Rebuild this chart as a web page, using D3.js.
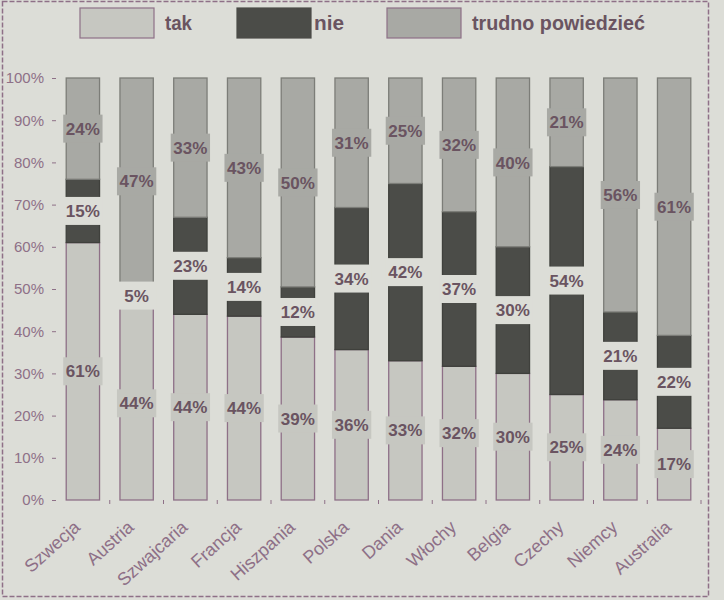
<!DOCTYPE html>
<html>
<head>
<meta charset="utf-8">
<script src="https://cdn.jsdelivr.net/npm/d3@7"></script>
<style>
  body { margin: 0; background: #dcddd7; }
  svg { display: block; }
</style>
</head>
<body>
<div class="chart"></div>
<script>
const countries = ['Szwecja', 'Austria', 'Szwajcaria', 'Francja', 'Hiszpania', 'Polska',
                   'Dania', 'Włochy', 'Belgia', 'Czechy', 'Niemcy', 'Australia'];
const tak    = [61, 44, 44, 44, 39, 36, 33, 32, 30, 25, 24, 17];
const nie    = [15,  5, 23, 14, 12, 34, 42, 37, 30, 54, 21, 22];
const trudno = [24, 47, 33, 43, 50, 31, 25, 32, 40, 21, 56, 61];
const seriesNames = ['tak', 'nie', 'trudno powiedzieć'];
const yTicks = [0, 0.1, 0.2, 0.3, 0.4, 0.5, 0.6, 0.7, 0.8, 0.9, 1];

const W = 724, H = 600;
const bg = '#dcddd7';
const purple = '#8e7087';
const textDark = '#6a5461';
const fills = ['#c6c7c1', '#4b4c48', '#a8a9a4'];
const strokes = [purple, '#3f403c', '#7c7d78'];
const font = '"Liberation Sans", Arial, sans-serif';

const rows = countries.map((c, i) => ({country: c, tak: tak[i], nie: nie[i], trudno: trudno[i]}));
const keys = ['tak', 'nie', 'trudno'];

const stack = d3.stack().keys(keys).offset(d3.stackOffsetExpand);
const series = stack(rows);

const svg = d3.select('.chart').append('svg')
    .attr('width', W).attr('height', H);

svg.append('rect')
    .attr('x', 0).attr('y', 0).attr('width', W).attr('height', H)
    .attr('fill', bg);

// dashed frame
svg.append('rect')
    .attr('x', 2.5).attr('y', 1.5).attr('width', 706).attr('height', H - 5)
    .attr('fill', 'none')
    .attr('stroke', purple).attr('stroke-width', 1.5)
    .attr('stroke-dasharray', '5,2');

// legend
const legendX = [80, 237, 387];
const legendTextW = [27, 30, 173];
const legend = svg.append('g');
seriesNames.forEach((name, i) => {
    legend.append('rect')
        .attr('x', legendX[i]).attr('y', 8)
        .attr('width', 74).attr('height', 30)
        .attr('fill', fills[i])
        .attr('stroke', i === 1 ? fills[1] : purple)
        .attr('stroke-width', 1.2);
    legend.append('text')
        .attr('x', legendX[i] + (i === 1 ? 77 : 85)).attr('y', 30)
        .attr('font-family', font)
        .attr('font-weight', 'bold')
        .attr('font-size', 20)
        .attr('textLength', legendTextW[i])
        .attr('lengthAdjust', 'spacingAndGlyphs')
        .attr('fill', textDark)
        .text(name);
});

const plot = {left: 56, right: 701, top: 78, bottom: 500};

const x = d3.scaleBand()
    .domain(countries)
    .range([plot.left, plot.right])
    .paddingInner(0.38)
    .paddingOuter(0.19);

const y = d3.scaleLinear()
    .domain([0, 1])
    .range([plot.bottom, plot.top]);

// y axis
const yAxis = d3.axisLeft(y)
    .tickValues(yTicks)
    .tickFormat(d3.format('.0%'))
    .tickSize(4)
    .tickPadding(8);

const yg = svg.append('g')
    .attr('transform', `translate(${plot.left},0)`)
    .call(yAxis);
yg.select('.domain').remove();
yg.selectAll('line').attr('stroke', purple);
yg.selectAll('text')
    .attr('font-family', font)
    .attr('font-size', 15)
    .attr('fill', purple);

// small ticks between bars along the baseline
svg.append('g')
    .selectAll('line')
    .data(countries)
    .enter()
    .append('line')
    .attr('x1', d => x(d) + x.bandwidth() + (x.step() - x.bandwidth()) / 2)
    .attr('x2', d => x(d) + x.bandwidth() + (x.step() - x.bandwidth()) / 2)
    .attr('y1', plot.bottom)
    .attr('y2', plot.bottom + 4)
    .attr('stroke', purple);

// x labels, rotated
svg.append('g')
    .selectAll('text')
    .data(countries)
    .enter()
    .append('text')
    .attr('transform', d => `translate(${x(d) + x.bandwidth() / 2 - 6},${plot.bottom + 24}) rotate(-42)`)
    .attr('text-anchor', 'end')
    .attr('dy', '0.35em')
    .attr('font-family', font)
    .attr('font-size', 18)
    .attr('fill', purple)
    .text(d => d);

// bars
const layers = svg.selectAll('.layer')
    .data(series)
    .enter()
    .append('g')
    .attr('class', 'layer');

layers.selectAll('rect')
    .data((s, i) => s.map(d => ({d, i})))
    .enter()
    .append('rect')
    .attr('x', o => x(o.d.data.country))
    .attr('y', o => y(o.d[1]))
    .attr('width', x.bandwidth())
    .attr('height', o => y(o.d[0]) - y(o.d[1]))
    .attr('fill', o => fills[o.i])
    .attr('stroke', o => strokes[o.i])
    .attr('stroke-width', 1.3);

// value labels
const labelBg = [fills[0], bg, fills[2]];
const labels = svg.append('g');
series.forEach((s, i) => {
    s.forEach(d => {
        const cx = x(d.data.country) + x.bandwidth() / 2;
        const cy = y((d[0] + d[1]) / 2);
        labels.append('rect')
            .attr('x', cx - x.bandwidth() / 2 - 3)
            .attr('y', cy - 14)
            .attr('width', x.bandwidth() + 6)
            .attr('height', 28)
            .attr('fill', labelBg[i]);
        labels.append('text')
            .attr('x', cx)
            .attr('y', cy)
            .attr('dy', '0.36em')
            .attr('text-anchor', 'middle')
            .attr('font-family', font)
            .attr('font-weight', 'bold')
            .attr('font-size', 17)
            .attr('fill', textDark)
            .text(d.data[keys[i]] + '%');
    });
});
</script>
</body>
</html>
